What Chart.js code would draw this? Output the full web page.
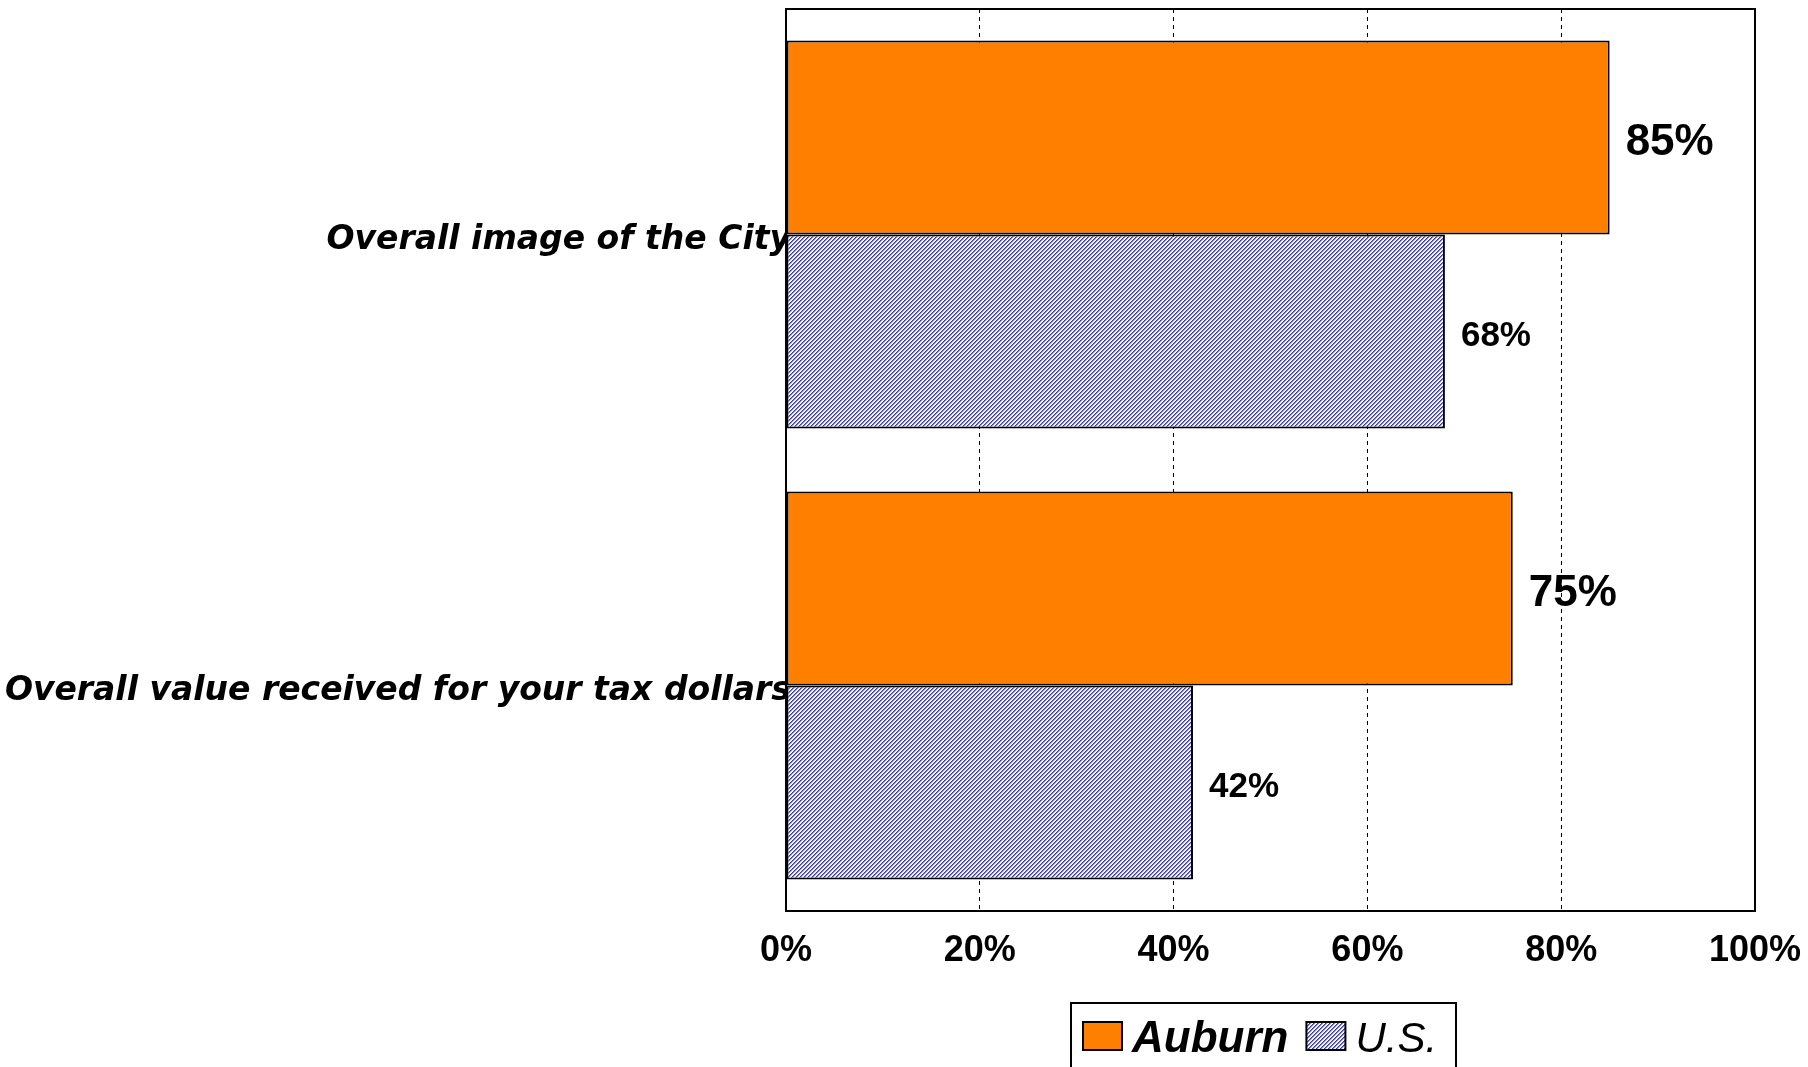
<!DOCTYPE html>
<html>
<head>
<meta charset="utf-8">
<title>Auburn vs U.S.</title>
<script src="https://cdn.jsdelivr.net/npm/chart.js@4/dist/chart.umd.min.js"></script>
<style>
  html, body { margin: 0; padding: 0; background: #fff; }
  canvas { display: block; }
</style>
</head>
<body>
<canvas id="myChart" width="1808" height="1067"></canvas>
<script>
const categories = ['Overall image of the City', 'Overall value received for your tax dollars'];
const seriesNames = ['Auburn', 'U.S.'];
const auburnValues = [85, 75];
const usValues = [68, 42];
const xTickValues = [0, 20, 40, 60, 80, 100];

// diagonal navy hatch used for the U.S. bars and its legend swatch
function makeHatch() {
  const tile = document.createElement('canvas');
  tile.width = 4;
  tile.height = 4;
  const tctx = tile.getContext('2d');
  const img = tctx.createImageData(4, 4);
  const shades = [[60, 60, 150], [130, 130, 200], [232, 232, 246], [255, 255, 255]];
  for (let y = 0; y < 4; y++) {
    for (let x = 0; x < 4; x++) {
      const c = shades[(x + y) % 4];
      const i = (y * 4 + x) * 4;
      img.data[i] = c[0];
      img.data[i + 1] = c[1];
      img.data[i + 2] = c[2];
      img.data[i + 3] = 255;
    }
  }
  tctx.putImageData(img, 0, 0);
  return tctx.createPattern(tile, 'repeat');
}

const ctx = document.getElementById('myChart');
const hatch = makeHatch();

// value labels at the end of each bar, bigger for Auburn
const valueLabels = {
  id: 'valueLabels',
  afterDatasetsDraw(chart) {
    const c = chart.ctx;
    const fonts = ['bold 44px "Liberation Sans", Arial, sans-serif', 'bold 35px "Liberation Sans", Arial, sans-serif'];
    chart.data.datasets.forEach((ds, di) => {
      const meta = chart.getDatasetMeta(di);
      meta.data.forEach((bar, i) => {
        c.save();
        c.font = fonts[di];
        c.fillStyle = '#000';
        c.textAlign = 'left';
        c.textBaseline = 'middle';
        c.fillText(ds.data[i] + '%', bar.x + 16, bar.y + 5);
        c.restore();
      });
    });
  }
};

// black frame round the plot area
const plotFrame = {
  id: 'plotFrame',
  afterDraw(chart) {
    const a = chart.chartArea;
    const c = chart.ctx;
    c.save();
    c.strokeStyle = '#000';
    c.lineWidth = 2;
    c.strokeRect(a.left, a.top, a.right - a.left, a.bottom - a.top);
    c.restore();
  }
};

// boxed legend under the axis, each entry with its own font
const boxLegend = {
  id: 'boxLegend',
  afterDraw(chart) {
    const c = chart.ctx;
    const fonts = ['italic bold 44px "Liberation Sans", Arial, sans-serif', 'italic 42px "Liberation Sans", Arial, sans-serif'];
    const boxX = 1071, boxY = 1003;
    c.save();
    c.strokeStyle = '#000';
    c.lineWidth = 2;
    c.strokeRect(boxX, boxY, 385, 90);
    let x = boxX + 12;
    const baseline = 1052;
    chart.data.datasets.forEach((ds, di) => {
      c.fillStyle = ds.backgroundColor;
      c.fillRect(x, 1022, 39, 28);
      c.strokeStyle = '#000';
      c.lineWidth = 2;
      c.strokeRect(x, 1022, 39, 28);
      x += 49;
      c.font = fonts[di];
      c.fillStyle = '#000';
      c.textAlign = 'left';
      c.textBaseline = 'alphabetic';
      c.fillText(ds.label, x, baseline);
      x += c.measureText(ds.label).width + 18;
    });
    c.restore();
  }
};

const myChart = new Chart(ctx, {
  type: 'bar',
  data: {
    labels: categories,
    datasets: [
      {
        label: seriesNames[0],
        data: auburnValues,
        backgroundColor: '#FF8000',
        borderColor: '#000',
        borderWidth: 2,
        borderSkipped: false
      },
      {
        label: seriesNames[1],
        data: usValues,
        backgroundColor: hatch,
        borderColor: '#000',
        borderWidth: 2,
        borderSkipped: false
      }
    ]
  },
  options: {
    indexAxis: 'y',
    responsive: false,
    animation: false,
    layout: {
      padding: { top: 9, right: 53, left: 0, bottom: 0 }
    },
    datasets: {
      bar: { categoryPercentage: 0.86, barPercentage: 1.0 }
    },
    plugins: {
      legend: { display: false },
      tooltip: { enabled: false }
    },
    scales: {
      x: {
        min: 0,
        max: 100,
        afterBuildTicks(scale) {
          scale.ticks = xTickValues.map(v => ({ value: v }));
        },
        afterFit(scale) {
          scale.height = 156;
          scale.paddingLeft = 0;
          scale.paddingRight = 0;
        },
        ticks: {
          padding: 18,
          color: '#000',
          font: { family: '"Liberation Sans", Arial, sans-serif', size: 36, weight: 'bold' },
          callback: v => v + '%'
        },
        grid: {
          drawTicks: false,
          lineWidth: 1,
          color: c => (c.tick && (c.tick.value === 0 || c.tick.value === 100)) ? 'rgba(0,0,0,0)' : '#000'
        },
        border: { display: true, color: '#000', width: 2, dash: [4, 4] }
      },
      y: {
        afterFit(scale) {
          scale.width = 786;
          scale.paddingTop = 0;
          scale.paddingBottom = 0;
        },
        ticks: {
          padding: -5,
          labelOffset: 6,
          color: '#000',
          font: { family: '"DejaVu Sans", Verdana, sans-serif', size: 33, weight: 'bold', style: 'italic' }
        },
        grid: { display: false, drawTicks: false },
        border: { display: true, color: '#000', width: 2 }
      }
    }
  },
  plugins: [valueLabels, plotFrame, boxLegend]
});
</script>
</body>
</html>
